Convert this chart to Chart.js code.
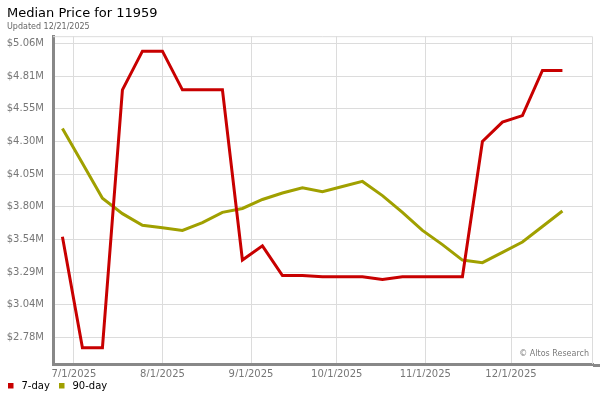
<!DOCTYPE html>
<html>
<head>
<meta charset="utf-8">
<script src="https://cdn.jsdelivr.net/npm/chart.js@4.4.1/dist/chart.umd.min.js"></script>
<style>
  html, body { margin: 0; padding: 0; background: #fff; }
  #wrap { width: 600px; height: 400px; }
</style>
</head>
<body>
<div id="wrap"><canvas id="myChart" width="600" height="400"></canvas></div>
<script>
const ctx = document.getElementById('myChart');

// weekly dates (one point per week)
const weeks = [
  '2025-06-27', '2025-07-04', '2025-07-11', '2025-07-18', '2025-07-25',
  '2025-08-01', '2025-08-08', '2025-08-15', '2025-08-22', '2025-08-29',
  '2025-09-05', '2025-09-12', '2025-09-19', '2025-09-26', '2025-10-03',
  '2025-10-10', '2025-10-17', '2025-10-24', '2025-10-31', '2025-11-07',
  '2025-11-14', '2025-11-21', '2025-11-28', '2025-12-05', '2025-12-12',
  '2025-12-19'
];

const sevenDay = [
  3.56, 2.70, 2.70, 4.70, 5.00, 5.00, 4.70, 4.70, 4.70, 3.38,
  3.49, 3.26, 3.26, 3.25, 3.25, 3.25, 3.23, 3.25, 3.25, 3.25,
  3.25, 4.30, 4.45, 4.50, 4.85, 4.85
];

const ninetyDay = [
  4.40, 4.13, 3.86, 3.74, 3.65, 3.63, 3.61, 3.67, 3.75, 3.78,
  3.85, 3.90, 3.94, 3.91, 3.95, 3.99, 3.88, 3.75, 3.61, 3.50,
  3.38, 3.36, 3.44, 3.52, 3.64, 3.76
];

const xTickDates = ['2025-07-01', '2025-08-01', '2025-09-01', '2025-10-01', '2025-11-01', '2025-12-01'];
const xTickLabels = ['7/1/2025', '8/1/2025', '9/1/2025', '10/1/2025', '11/1/2025', '12/1/2025'];
const yTickValues = [2.78, 3.0333, 3.2867, 3.54, 3.7933, 4.0467, 4.30, 4.5533, 4.8067, 5.06];
const yTickLabels = ['$2.78M', '$3.04M', '$3.29M', '$3.54M', '$3.80M', '$4.05M', '$4.30M', '$4.55M', '$4.81M', '$5.06M'];

const base = Date.UTC(2025, 6, 1);
function dayOf(s) {
  const p = s.split('-');
  return (Date.UTC(+p[0], +p[1] - 1, +p[2]) - base) / 86400000;
}
const xs = weeks.map(dayOf);
const xTicks = xTickDates.map(dayOf);

const font = "'DejaVu Sans', sans-serif";
const red = '#c80000';
const olive = '#a0a000';

// light frame, watermark, extended bottom axis and the little legend
const frame = {
  id: 'frame',
  beforeDatasetsDraw(chart) {
    const a = chart.chartArea;
    const c = chart.ctx;
    c.save();
    c.strokeStyle = '#dcdcdc';
    c.lineWidth = 1;
    c.beginPath();
    c.moveTo(a.left, a.top + 0.5);
    c.lineTo(a.right - 0.5, a.top + 0.5);
    c.lineTo(a.right - 0.5, a.bottom);
    c.stroke();
    c.restore();
  },
  afterDraw(chart) {
    const a = chart.chartArea;
    const c = chart.ctx;
    c.save();
    c.fillStyle = '#7a7a7a';
    c.font = '8px ' + font;
    c.textAlign = 'right';
    c.textBaseline = 'middle';
    c.fillText('\u00A9 Altos Research', a.right - 4, a.bottom - 10);
    c.strokeStyle = '#888';
    c.lineWidth = 3;
    c.beginPath();
    c.moveTo(a.right, a.bottom + 1.5);
    c.lineTo(600, a.bottom + 1.5);
    c.stroke();

    // legend
    const legendX = [8, 59];
    c.font = '10px ' + font;
    c.textAlign = 'left';
    chart.data.datasets.forEach((d, i) => {
      c.fillStyle = d.borderColor;
      c.fillRect(legendX[i], 383, 5.5, 5.5);
      c.fillStyle = '#000';
      c.fillText(d.label, legendX[i] + 13.5, 386.5);
    });
    c.restore();
  }
};

new Chart(ctx, {
  type: 'line',
  data: {
    datasets: [
      {
        label: '7-day',
        data: xs.map((x, i) => ({ x: x, y: sevenDay[i] })),
        borderColor: red,
        backgroundColor: red,
        borderWidth: 3,
        pointRadius: 0,
        tension: 0
      },
      {
        label: '90-day',
        data: xs.map((x, i) => ({ x: x, y: ninetyDay[i] })),
        borderColor: olive,
        backgroundColor: olive,
        borderWidth: 3,
        pointRadius: 0,
        tension: 0
      }
    ]
  },
  options: {
    responsive: false,
    animation: false,
    layout: { padding: { left: 7, right: 7, top: 0, bottom: 23 } },
    plugins: {
      title: {
        display: true,
        text: 'Median Price for 11959',
        align: 'start',
        color: '#000',
        font: { family: font, size: 13, weight: 'normal' },
        padding: { top: 6, bottom: 0 }
      },
      subtitle: {
        display: true,
        text: 'Updated 12/21/2025',
        align: 'start',
        color: '#666',
        font: { family: font, size: 8 },
        padding: { top: 1, bottom: 4 }
      },
      legend: { display: false },
      tooltip: { enabled: false }
    },
    scales: {
      x: {
        type: 'linear',
        min: -7.3,
        max: 181.7,
        afterBuildTicks(scale) {
          scale.ticks = xTicks.map(v => ({ value: v }));
        },
        afterFit(scale) { scale.height = 13; },
        ticks: {
          autoSkip: false,
          maxRotation: 0,
          padding: 4,
          color: '#777',
          font: { family: font, size: 10 },
          callback: (v) => xTickLabels[xTicks.indexOf(v)]
        },
        grid: { color: '#dcdcdc', drawTicks: false },
        border: { color: '#888', width: 3 }
      },
      y: {
        type: 'linear',
        min: 2.574,
        max: 5.116,
        afterBuildTicks(scale) {
          scale.ticks = yTickValues.map(v => ({ value: v }));
        },
        afterFit(scale) { scale.width = 46; },
        ticks: {
          autoSkip: false,
          padding: 9,
          color: '#777',
          font: { family: font, size: 10 },
          callback: (v) => yTickLabels[yTickValues.indexOf(v)]
        },
        grid: { color: '#dcdcdc', drawTicks: false },
        border: { color: '#888', width: 3 }
      }
    }
  },
  plugins: [frame]
});
</script>
</body>
</html>
